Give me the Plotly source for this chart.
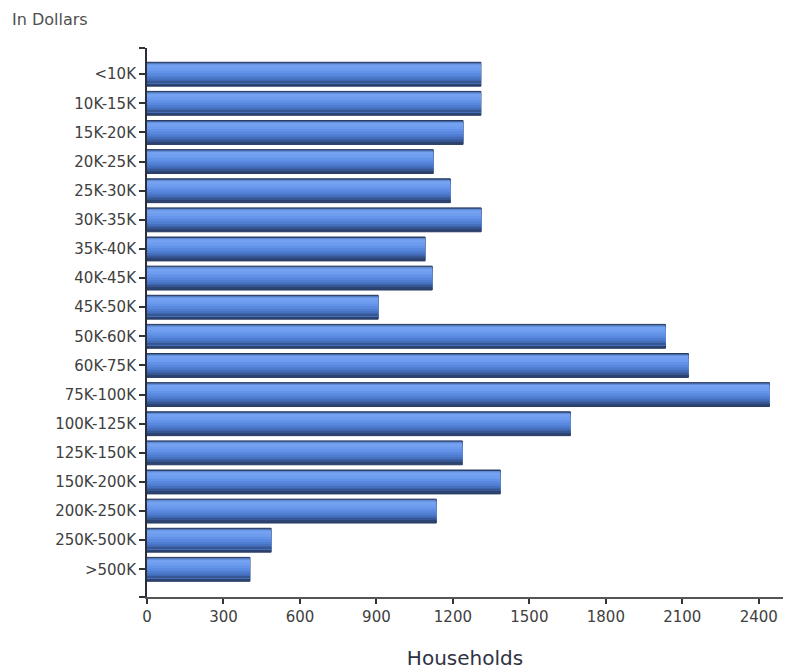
import plotly.graph_objects as go

# Household income brackets and household counts
brackets = ["<10K", "10K-15K", "15K-20K", "20K-25K", "25K-30K", "30K-35K",
            "35K-40K", "40K-45K", "45K-50K", "50K-60K", "60K-75K", "75K-100K",
            "100K-125K", "125K-150K", "150K-200K", "200K-250K", "250K-500K", ">500K"]
households = [1310, 1310, 1240, 1123, 1190, 1311, 1091, 1119, 907,
              2034, 2124, 2442, 1661, 1237, 1386, 1135, 487, 404]
x_ticks = [0, 300, 600, 900, 1200, 1500, 1800, 2100, 2400]

pos = list(range(len(brackets)))
y_lo, y_hi = -0.9, len(brackets) - 0.05

# Shading bands give each bar a rounded, cylinder-like look.
# Each band runs from its start down to `band_end`; later bands are drawn
# over earlier ones, so there are no seams between them.
half = 0.41
band_end = 0.31
bands = [
    (-0.38, "#5f8bd6"),
    (-0.33, "#74a2f0"),
    (-0.22, "#6e9cef"),
    (-0.12, "#6393e8"),
    (-0.03, "#5989de"),
    (0.06, "#4f7dd0"),
    (0.14, "#4670be"),
    (0.21, "#3e63a8"),
    (0.26, "#365793"),
]

fig = go.Figure()
fig.add_trace(go.Bar(
    x=households, y=pos, orientation="h",
    offset=-half, width=2 * half,
    marker=dict(color="#2d4372", line=dict(color="#283a62", width=1)),
    hoverinfo="x", showlegend=False,
))
for start, col in bands:
    fig.add_trace(go.Bar(
        x=households, y=pos, orientation="h",
        offset=start, width=band_end - start,
        marker=dict(color=col, line=dict(width=0)),
        hoverinfo="skip", showlegend=False,
    ))

plot_w, plot_h = 786 - 147 - 3, 672 - 48 - 75
fig.update_layout(
    width=786, height=672,
    margin=dict(l=147, r=3, t=48, b=75),
    paper_bgcolor="white", plot_bgcolor="white",
    barmode="overlay",
    font=dict(family="DejaVu Sans, Verdana, sans-serif", color="#404040", size=15),
    annotations=[dict(
        text="In Dollars",
        x=(10 - 147) / plot_w, y=1 + (48 - 19) / plot_h,
        xref="paper", yref="paper", xanchor="left", yanchor="middle",
        showarrow=False, font=dict(size=16, color="#505050"),
    )],
)

fig.update_xaxes(
    range=[0, 2495], tickvals=x_ticks, ticktext=[str(v) for v in x_ticks],
    showgrid=False, zeroline=False,
    showline=True, linecolor="#555555", linewidth=2,
    ticks="outside", ticklen=5, tickwidth=2, tickcolor="#333333",
    tickfont=dict(size=15, color="#404040"),
    title=dict(text="Households", font=dict(size=20, color="#2f3342"), standoff=26),
)
fig.update_yaxes(
    range=[y_hi, y_lo],
    tickvals=[y_lo] + pos + [y_hi], ticktext=[""] + brackets + [""],
    showgrid=False, zeroline=False,
    showline=True, linecolor="#2a2f3a", linewidth=2,
    ticks="outside", ticklen=6, tickwidth=2, tickcolor="#333333",
    tickfont=dict(size=15, color="#404040"),
)

fig.write_html("out.html")
